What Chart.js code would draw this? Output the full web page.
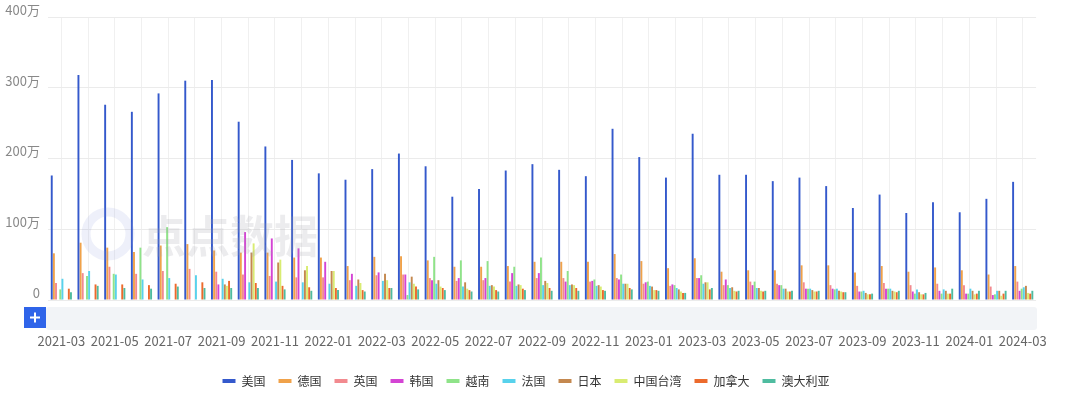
<!DOCTYPE html>
<html><head><meta charset="utf-8">
<script src="https://cdn.jsdelivr.net/npm/chart.js@4/dist/chart.umd.min.js"></script>
<style>html,body{margin:0;padding:0;background:#fff}#wrap{width:1080px;height:409px;position:relative}</style>
</head><body><div id="wrap"><canvas id="c" width="1080" height="409"></canvas></div>
<script>
const months = ['2021-03','2021-04','2021-05','2021-06','2021-07','2021-08','2021-09','2021-10','2021-11','2021-12',
'2022-01','2022-02','2022-03','2022-04','2022-05','2022-06','2022-07','2022-08','2022-09','2022-10','2022-11','2022-12',
'2023-01','2023-02','2023-03','2023-04','2023-05','2023-06','2023-07','2023-08','2023-09','2023-10','2023-11','2023-12',
'2024-01','2024-02','2024-03'];
const yTicks = [0,100,200,300,400];
const seriesNames = ['美国','德国','英国','韩国','越南','法国','日本','中国台湾','加拿大','澳大利亚'];
const seriesColors = ['#3459cc','#f0a24a','#f28a8f','#d444d4','#8fe389','#58d2ec','#c4884f','#d9ec72','#ec6a2c','#4fbca0'];
const us = [176,318,276,266,292,310,311,252,217,198,179,170,185,207,189,146,157,183,192,184,175,242,202,173,235,177,177,168,173,161,130,149,123,138,124,143,167];
const de = [66,81,74,68,77,79,70,67,67,60,60,48,61,62,56,47,47,48,54,54,54,65,55,45,59,40,42,42,49,49,39,48,40,46,42,36,48];
const uk = [24,38,47,37,41,44,40,36,34,32,32,28,35,36,31,27,28,26,31,31,26,31,23,20,31,21,26,23,25,21,20,24,21,23,21,19,26];
const kr = [0,0,0,0,0,0,22,96,87,73,54,37,39,36,28,31,31,38,38,26,27,29,25,22,31,29,21,21,16,16,12,16,12,13,9,7,13];
const vn = [15,34,37,74,103,0,0,0,0,0,0,0,0,7,61,56,55,47,60,41,29,36,26,21,35,21,26,21,16,15,12,16,9,9,9,8,16];
const fr = [30,41,36,29,31,35,30,25,26,25,23,20,27,25,23,19,20,20,21,21,20,23,20,17,23,17,17,16,16,16,13,16,15,15,16,13,18];
const jp = [0,0,0,0,0,0,22,67,53,42,41,29,37,33,28,25,21,22,27,22,21,23,19,15,25,18,17,16,14,13,10,13,11,13,13,13,20];
const tw = [0,0,0,0,0,0,20,80,57,48,41,24,28,23,19,16,19,21,24,21,19,23,14,12,25,13,13,12,12,12,8,12,8,9,8,6,10];
const ca = [16,22,22,21,23,25,27,24,20,18,17,14,17,19,17,14,14,16,17,17,14,17,14,10,15,12,12,12,12,11,8,11,8,9,9,9,9];
const au = [11,20,17,16,19,17,17,17,15,13,14,12,17,15,14,12,12,14,13,13,13,15,13,10,17,13,13,13,13,11,9,13,10,16,13,13,13];
const seriesData = [us,de,uk,kr,vn,fr,jp,tw,ca,au];

const FONT = '"Noto Sans CJK SC", "Noto Sans", sans-serif';

const extras = {
  id: 'extras',
  afterDatasetsDraw(chart) {
    const ctx = chart.ctx;
    ctx.save();
    ctx.font = 'bold 44px ' + FONT;
    ctx.fillStyle = 'rgba(160,160,170,0.2)';
    ctx.textBaseline = 'middle';
    ctx.fillText('点点数据', 142, 236);
    ctx.lineWidth = 9;
    ctx.strokeStyle = 'rgba(120,140,220,0.13)';
    ctx.beginPath();
    ctx.arc(108, 234, 22, 0, Math.PI * 2);
    ctx.stroke();
    ctx.restore();
  },
  afterDraw(chart) {
    const ctx = chart.ctx;
    const a = chart.chartArea;
    ctx.save();
    const x0 = 46, x1 = 1037, y0 = a.bottom + 7, h = 23;
    ctx.fillStyle = '#f2f4f7';
    ctx.beginPath();
    ctx.roundRect(x0, y0, x1 - x0, h, 3);
    ctx.fill();
    ctx.fillStyle = '#2f64e9';
    ctx.fillRect(24, y0, 22, 21);
    ctx.strokeStyle = '#ffffff';
    ctx.lineWidth = 2;
    ctx.beginPath();
    ctx.moveTo(30, y0 + 10.5); ctx.lineTo(40, y0 + 10.5);
    ctx.moveTo(35, y0 + 5.5); ctx.lineTo(35, y0 + 15.5);
    ctx.stroke();
    ctx.restore();
  }
};

new Chart(document.getElementById('c'), {
  type: 'bar',
  data: {
    labels: months,
    datasets: seriesNames.map((n, i) => ({
      label: n,
      data: seriesData[i],
      backgroundColor: seriesColors[i],
      borderWidth: 0,
      categoryPercentage: 0.8,
      barPercentage: 0.9
    }))
  },
  options: {
    responsive: false,
    devicePixelRatio: 1,
    animation: false,
    layout: { padding: { top: 17, right: 28, left: 0, bottom: 12 } },
    plugins: {
      legend: {
        position: 'bottom',
        labels: { boxWidth: 13, boxHeight: 4, padding: 13, color: '#333', font: { size: 12, family: FONT } }
      },
      tooltip: { enabled: false }
    },
    scales: {
      x: {
        grid: { offset: false, color: '#f0f0f0', drawTicks: false },
        border: { display: false },
        ticks: {
          autoSkip: false, maxRotation: 0, padding: 33, color: '#666',
          font: { size: 13, family: FONT },
          callback: (v, i) => (i % 2 === 0 ? months[i] : '')
        },
        afterFit(s) { s.height = 62; }
      },
      y: {
        min: 0, max: 400,
        afterBuildTicks(s) { s.ticks = yTicks.map(v => ({ value: v })); },
        grid: { color: '#ebebeb', drawTicks: false },
        border: { display: false },
        ticks: {
          padding: 8, labelOffset: -7, color: '#888',
          font: { size: 13, family: FONT },
          callback: v => (v === 0 ? '0' : v + '万')
        },
        afterFit(s) { s.width = 48; }
      }
    }
  },
  plugins: [extras]
});
</script>
</body></html>
